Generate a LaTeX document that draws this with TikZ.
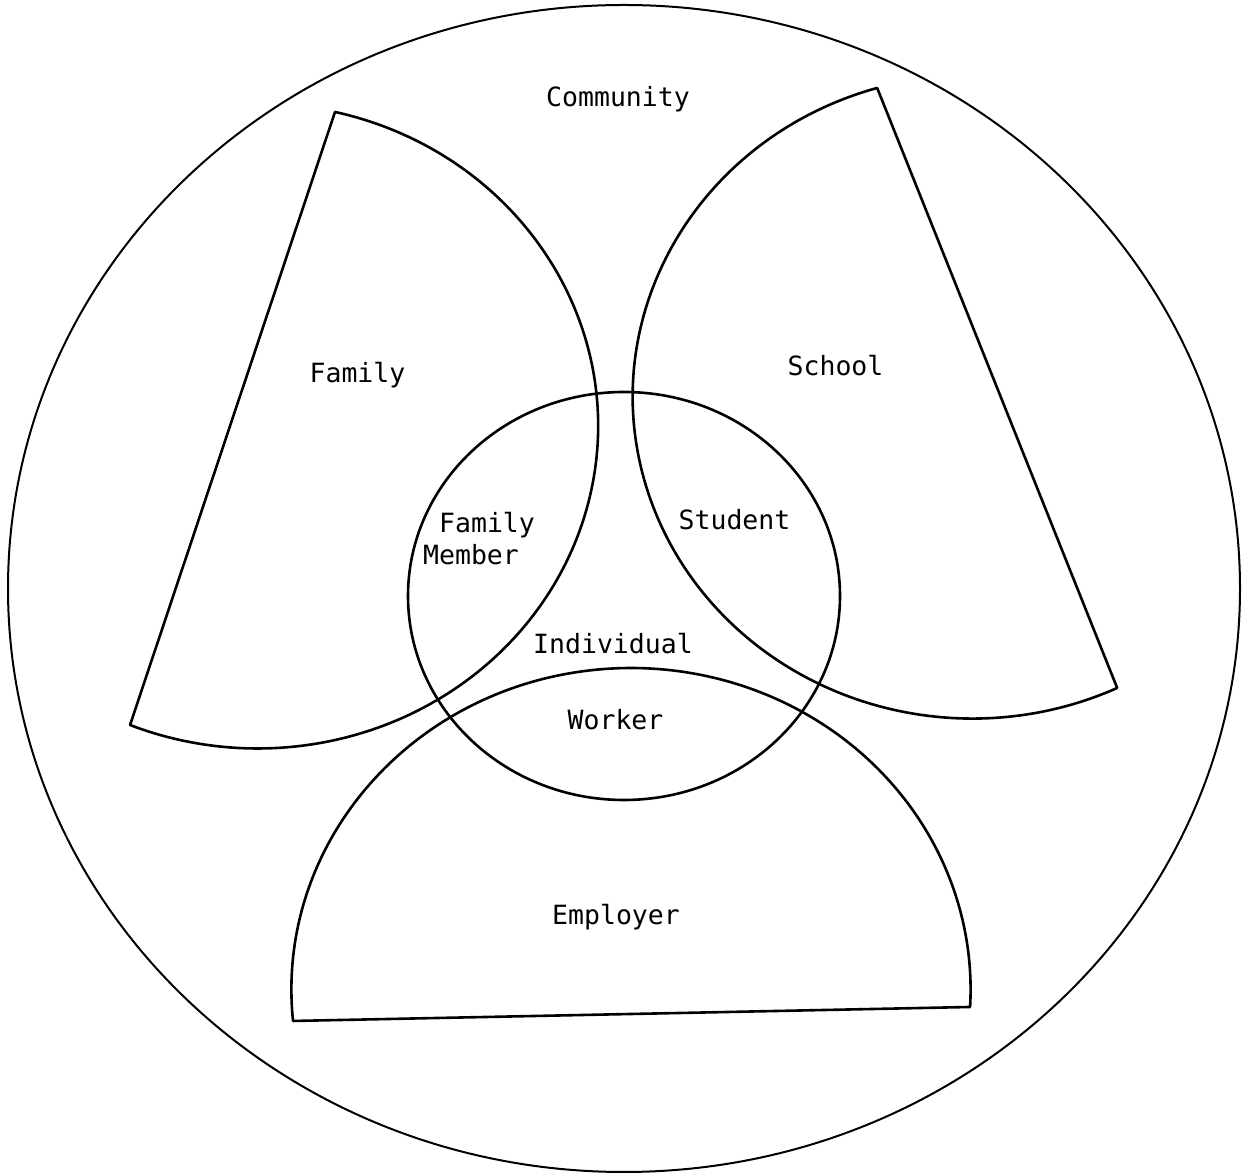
\documentclass[tikz,border=0pt]{standalone}
\usepackage{fontspec}
\newfontfamily\labfont{DejaVu Sans Mono}
\begin{document}
\begin{tikzpicture}[x=1pt,y=1pt,
  shapeline/.style={line width=2.6pt,line join=round,line cap=round},
  outerline/.style={line width=2pt},
  lab/.style={font=\labfont\fontsize{26.5}{30}\selectfont,inner sep=0pt,anchor=base}]
\useasboundingbox (0,0) rectangle (1243,1175);
% centres
\coordinate (comC) at (624,586.5);
\coordinate (famC) at (257.6,749);
\coordinate (schC) at (972.5,778.2);
\coordinate (indC) at (624,579);
\coordinate (empC) at (631,185.4);
% outer community
\draw[outerline] (comC) ellipse [x radius=616pt, y radius=583.5pt];
% family
\draw[shapeline] ([shift={(76.86:340.5pt and 322.5pt)}]famC) arc[start angle=76.86, end angle=-112, x radius=340.5pt, y radius=322.5pt] -- cycle;
% school
\draw[shapeline] ([shift={(106.3:339.8pt and 321.8pt)}]schC) arc[start angle=106.3, end angle=295.2, x radius=339.8pt, y radius=321.8pt] -- cycle;
% individual
\draw[shapeline] (indC) ellipse [x radius=216pt, y radius=204pt];
% employer
\draw[shapeline] ([shift={(185.6:339.6pt and 321.6pt)}]empC) arc[start angle=185.6, end angle=-3.1, x radius=339.6pt, y radius=321.6pt] -- cycle;
% labels
\node[lab] (community) at (618,1068) {Community};
\node[lab] (family) at (357.5,792) {Family};
\node[lab] (school) at (835.5,799) {School};
\node[lab] (famA) at (487,642) {Family};
\node[lab] (famB) at (471,610) {Member};
\node[lab] (student) at (734.5,645) {Student};
\node[lab] (individual) at (613,521) {Individual};
\node[lab] (worker) at (615.5,445) {Worker};
\node[lab] (employer) at (616,250) {Employer};
\end{tikzpicture}
\end{document}
